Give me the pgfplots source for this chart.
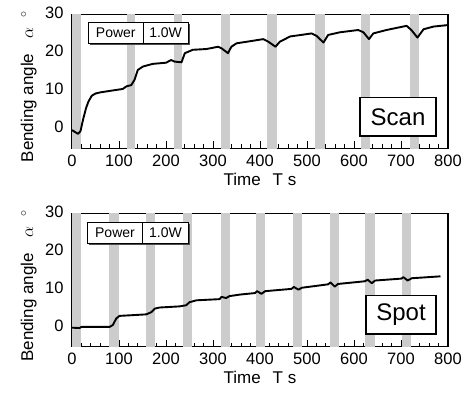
\documentclass[border=0pt]{standalone}
\usepackage{fontspec}
\setmainfont{Liberation Sans}
\usepackage{pgfplots}
\usepackage{pgfplotstable}
\pgfplotsset{compat=1.18}

\pgfplotstableread{
t v
0 0.0
6 -0.5
13 -1.0
18 -0.3
24 3.0
30 5.8
35 7.5
42 9.0
50 9.6
60 9.9
81 10.3
108 10.8
116 11.5
126 11.8
133 13.2
140 15.8
151 16.7
172 17.4
200 17.7
211 18.4
218 18.0
233 17.8
240 20.2
257 21.1
286 21.3
311 21.9
318 21.5
332 20.2
339 21.9
350 22.8
371 23.2
407 23.9
418 23.2
433 21.9
442 23.2
464 24.6
510 25.4
521 24.7
535 23.0
545 25.0
570 25.7
609 26.3
620 25.7
632 23.9
641 25.4
669 26.3
712 27.4
722 26.3
735 24.3
748 26.5
769 27.2
800 27.6
}\scandata

\pgfplotstableread{
t v
0 0.2
16 0.1
20 0.4
80 0.4
87 0.9
94 2.6
101 3.3
130 3.5
158 3.7
169 4.3
176 5.2
186 5.5
229 5.8
243 6.1
250 6.9
265 7.4
314 7.7
318 8.3
328 8.0
335 8.5
357 8.9
389 9.3
394 9.8
403 9.1
411 9.8
467 10.4
472 10.9
482 10.2
489 10.7
545 11.6
550 12.1
559 11.0
566 11.7
623 12.4
629 12.8
638 11.9
645 12.6
701 13.1
705 13.5
714 12.6
723 13.2
784 13.7
}\spotdata

\pgfplotsset{
  myaxis/.style={
    scale only axis, width=376pt, height=133.5pt,
    xmin=0, xmax=800, ymin=-4.8, ymax=30.3,
    xtick={0,100,...,800}, ytick={0,10,20,30},
    minor x tick num=4, minor y tick num=2,
    tick pos=left, tick align=inside,
    major tick length=7pt, minor tick length=4pt,
    every tick/.style={line width=0.9pt, black},
    axis line style={line width=1.2pt},
    /pgf/number format/assume math mode=true,
    tick label style={font=\fontsize{16.5}{18}\selectfont},
    xticklabel style={yshift=-3pt},
    yticklabel style={xshift=-5pt, yshift=3pt},
    xlabel={Time\hspace{0.7em}T s},
    ylabel={Bending angle\hspace{0.9em}$\alpha$\hspace{0.6em}$^{\circ}$},
    every axis x label/.style={at={(axis description cs:0.5,-0.275)}, anchor=base, font=\fontsize{17}{20}\selectfont},
    band/.style={fill=black!20, draw=none, forget plot},
    curve/.style={black, line width=1.9pt, line join=round},
  }
}

\begin{document}
\begin{tikzpicture}
\useasboundingbox (0pt,0pt) rectangle (470pt,398pt);

% ---------- Scan ----------
\begin{axis}[myaxis, at={(72pt,249.7pt)}, anchor=south west,
  every axis y label/.style={at={(axis description cs:-0.1037,0.463)}, rotate=90, anchor=base, font=\fontsize{17}{20}\selectfont}]
\addplot[band] coordinates {(0,-10) (0,40) (20,40) (20,-10)} --cycle;
\addplot[band] coordinates {(116,-10) (116,40) (135,40) (135,-10)} --cycle;
\addplot[band] coordinates {(216,-10) (216,40) (235,40) (235,-10)} --cycle;
\addplot[band] coordinates {(318,-10) (318,40) (337,40) (337,-10)} --cycle;
\addplot[band] coordinates {(415,-10) (415,40) (436,40) (436,-10)} --cycle;
\addplot[band] coordinates {(518,-10) (518,40) (538,40) (538,-10)} --cycle;
\addplot[band] coordinates {(614,-10) (614,40) (634,40) (634,-10)} --cycle;
\addplot[band] coordinates {(719,-10) (719,40) (739,40) (739,-10)} --cycle;
\addplot[curve] table[x=t,y=v] {\scandata};
\end{axis}

% ---------- Spot ----------
\begin{axis}[myaxis, at={(72pt,51.3pt)}, anchor=south west,
  every axis y label/.style={at={(axis description cs:-0.1037,0.455)}, rotate=90, anchor=base, font=\fontsize{17}{20}\selectfont}]
\addplot[band] coordinates {(0,-10) (0,40) (20,40) (20,-10)} --cycle;
\addplot[band] coordinates {(79,-10) (79,40) (99,40) (99,-10)} --cycle;
\addplot[band] coordinates {(158,-10) (158,40) (177,40) (177,-10)} --cycle;
\addplot[band] coordinates {(236,-10) (236,40) (256,40) (256,-10)} --cycle;
\addplot[band] coordinates {(318,-10) (318,40) (337,40) (337,-10)} --cycle;
\addplot[band] coordinates {(392,-10) (392,40) (411,40) (411,-10)} --cycle;
\addplot[band] coordinates {(470,-10) (470,40) (490,40) (490,-10)} --cycle;
\addplot[band] coordinates {(548,-10) (548,40) (569,40) (569,-10)} --cycle;
\addplot[band] coordinates {(623,-10) (623,40) (644,40) (644,-10)} --cycle;
\addplot[band] coordinates {(702,-10) (702,40) (722,40) (722,-10)} --cycle;
\addplot[curve] table[x=t,y=v] {\spotdata};
\end{axis}

% ---------- annotation boxes ----------
\begin{scope}[x=1pt, y=1pt]
\begin{scope}[font=\fontsize{14}{16}\selectfont]
% top Power box
\fill[black!70] (90.3,352.7) rectangle (190,373.7);
\draw[fill=white, line width=0.8pt] (88.3,354.7) rectangle (188,375.7);
\draw[line width=0.8pt] (143.3,354.7) -- (143.3,375.7);
\node at (115.8,365.2) {Power};
\node at (165.6,365.2) {1.0W};
% bottom Power box
\fill[black!70] (89.3,152.7) rectangle (190.3,173.7);
\draw[fill=white, line width=0.8pt] (87.3,154.7) rectangle (188.3,175.7);
\draw[line width=0.8pt] (142.7,154.7) -- (142.7,175.7);
\node at (115,165.2) {Power};
\node at (165.5,165.2) {1.0W};
\end{scope}
\draw[fill=white, line width=1.5pt] (360,262) rectangle (436,300.3);
\node[font=\fontsize{24}{28}\selectfont] at (398,281.2) {Scan};
\draw[fill=white, line width=1.5pt] (366,64) rectangle (436,102.7);
\node[font=\fontsize{24}{28}\selectfont] at (401,83.3) {Spot};
\end{scope}
\end{tikzpicture}
\end{document}
